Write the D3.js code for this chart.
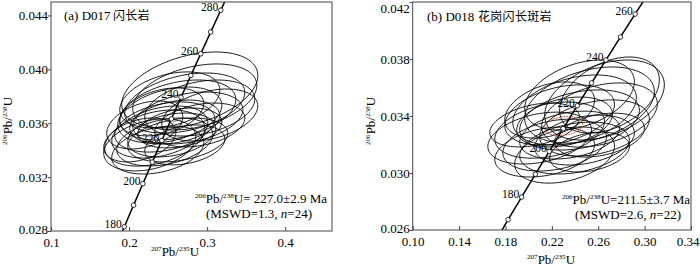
<!DOCTYPE html>
<html><head><meta charset="utf-8">
<script src="https://cdn.jsdelivr.net/npm/d3@7"></script>
<style>body{margin:0;background:#fff}svg{display:block}</style>
</head><body>
<svg id="c" width="700" height="267"></svg>
<script>
// ---------- Panel (a) D017 data: ellipse centres (207Pb/235U, 206Pb/238U), half-widths, correlation ----------
const aX   = [0.2778,0.2842,0.2714,0.2906,0.2624,0.2522,0.2753,0.2586,0.2458,0.2650,0.2394,0.2547,0.2329,0.2265,0.2458,0.2624,0.2368,0.2201,0.2906,0.3034,0.2522,0.2419,0.2714,0.2137];
const aY   = [0.03847,0.03795,0.03750,0.03713,0.03698,0.03661,0.03639,0.03609,0.03572,0.03565,0.03535,0.03513,0.03490,0.03439,0.03461,0.03476,0.03401,0.03587,0.03587,0.03661,0.03773,0.03684,0.03439,0.03476];
const aEx  = [0.0872,0.0795,0.0769,0.0705,0.0744,0.0667,0.0705,0.0577,0.0641,0.0538,0.0615,0.0564,0.0641,0.0590,0.0615,0.0641,0.0590,0.0487,0.0577,0.0615,0.0641,0.0538,0.0513,0.0462];
const aEy  = [0.00282,0.00245,0.00223,0.00208,0.00223,0.00208,0.00193,0.00163,0.00186,0.00148,0.00193,0.00163,0.00208,0.00193,0.00178,0.00163,0.00178,0.00178,0.00163,0.00193,0.00208,0.00178,0.00148,0.00163];
const aRho = [0.38,0.35,0.35,0.32,0.35,0.35,0.32,0.3,0.32,0.3,0.35,0.3,0.35,0.32,0.32,0.3,0.32,0.35,0.32,0.35,0.35,0.35,0.3,0.35];
const aMean = {x:0.2612, y:0.0359, ex:0.0064, ey:0.00030, rho:0.3};
const aMarkerAges = [180,190,200,210,220,230,240,250,260,270,280];
const aLabelAges  = [180,200,220,240,260,280];
const aXTicks = [0.1,0.2,0.3,0.4];
const aYTicks = [0.028,0.032,0.036,0.040,0.044];

// ---------- Panel (b) D018 data ----------
const bX   = [0.2654,0.2525,0.2396,0.2611,0.2267,0.2439,0.2310,0.2568,0.2181,0.2353,0.2095,0.2482,0.2224,0.2396,0.2138,0.2310,0.2611,0.2052,0.2697,0.2181,0.2525,0.2439];
const bY   = [0.03512,0.03477,0.03442,0.03407,0.03407,0.03372,0.03358,0.03316,0.03301,0.03266,0.03245,0.03231,0.03196,0.03175,0.03147,0.03126,0.03266,0.03337,0.03547,0.03442,0.03147,0.03547];
const bEx  = [0.0516,0.0559,0.0533,0.0499,0.0473,0.0516,0.0413,0.0473,0.0473,0.0430,0.0447,0.0430,0.0447,0.0473,0.0430,0.0430,0.0387,0.0387,0.0430,0.0387,0.0344,0.0473];
const bEy  = [0.00281,0.00267,0.00246,0.00225,0.00211,0.00211,0.00175,0.00197,0.00197,0.00168,0.00182,0.00175,0.00182,0.00182,0.00175,0.00197,0.00154,0.00154,0.00267,0.00197,0.00140,0.00246];
const bRho = [0.38,0.35,0.35,0.35,0.35,0.32,0.32,0.32,0.32,0.3,0.32,0.3,0.3,0.3,0.3,0.32,0.32,0.35,0.4,0.35,0.3,0.38];
const bMean = {x:0.2302, y:0.03330, ex:0.0163, ey:0.00067, rho:0.2};
const bMarkerAges = [170,180,190,200,210,220,230,240,250,260];
const bLabelAges  = [180,200,220,240,260];
const bXTicks = [0.10,0.14,0.18,0.22,0.26,0.30,0.34];
const bYTicks = [0.026,0.030,0.034,0.038,0.042];

// Decay constants (per Ma) for the concordia curve
const L238 = 1.55125e-4, L235 = 9.8485e-4;
const conc = t => [Math.expm1(L235*t), Math.expm1(L238*t)];

const svg = d3.select('#c');
const SERIF = '"Liberation Serif","Times New Roman",serif';
const CJK = '"Noto Sans CJK SC",sans-serif';

function iso(sel, parts, size){
  let prevSup = false;
  parts.forEach(p=>{
    if(p[1]){ sel.append('tspan').attr('font-size', size*0.55).attr('dy', -size*0.38).text(p[0]); prevSup = true; }
    else { sel.append('tspan').attr('font-size', size).attr('dy', prevSup ? size*0.38 : 0).text(p[0]); prevSup = false; }
  });
}

function panel(cfg){
  const g = svg.append('g');
  const x = d3.scaleLinear().domain(cfg.xDomain).range([cfg.left, cfg.right]);
  const y = d3.scaleLinear().domain(cfg.yDomain).range([cfg.bottom, cfg.top]);
  const cid = 'clip'+cfg.id;
  svg.append('defs').append('clipPath').attr('id',cid).append('rect')
    .attr('x',cfg.left).attr('y',cfg.top).attr('width',cfg.right-cfg.left).attr('height',cfg.bottom-cfg.top);
  const plot = g.append('g').attr('clip-path',`url(#${cid})`);

  const ell = (cx,cy,ex,ey,rho) => d3.range(0,360,3).map(d=>{
    const t=d*Math.PI/180;
    return [x(cx+ex*Math.cos(t)), y(cy+ey*(rho*Math.cos(t)+Math.sqrt(1-rho*rho)*Math.sin(t)))];
  });
  const line = d3.line().curve(d3.curveLinearClosed);
  cfg.X.forEach((v,i)=>{
    plot.append('path').attr('d', line(ell(v,cfg.Y[i],cfg.Ex[i],cfg.Ey[i],cfg.Rho[i])))
      .attr('fill','none').attr('stroke','#000').attr('stroke-width',0.9);
  });
  const m = cfg.mean;
  plot.append('path').attr('d', line(ell(m.x,m.y,m.ex,m.ey,m.rho)))
    .attr('fill','none').attr('stroke',cfg.meanColor).attr('stroke-width',cfg.meanWidth)
    .attr('stroke-dasharray',cfg.meanDash);

  // concordia
  const curve = d3.range(100,331,1).map(t=>{const c=conc(t);return [x(c[0]),y(c[1])];});
  plot.append('path').attr('d', d3.line()(curve)).attr('fill','none').attr('stroke','#000').attr('stroke-width',1.5);
  cfg.markers.forEach(t=>{
    const c=conc(t);
    plot.append('circle').attr('cx',x(c[0])).attr('cy',y(c[1])).attr('r',2.3)
      .attr('fill','#fff').attr('stroke','#000').attr('stroke-width',0.8);
  });
  cfg.labels.forEach(t=>{
    const c=conc(t);
    g.append('text').attr('x',x(c[0])-2.5).attr('y',y(c[1])+1).attr('text-anchor','end')
      .attr('font-family',SERIF).attr('font-size',11.5).text(t);
  });

  // frame
  g.append('rect').attr('x',cfg.left).attr('y',cfg.top).attr('width',cfg.right-cfg.left).attr('height',cfg.bottom-cfg.top)
    .attr('fill','none').attr('stroke','#444').attr('stroke-width',1);

  // axes
  const xa = g.append('g').attr('transform',`translate(0,${cfg.bottom})`)
    .call(d3.axisBottom(x).tickValues(cfg.xTicks).tickFormat(d3.format(cfg.xFmt)).tickSizeInner(-4).tickSizeOuter(0).tickPadding(7));
  xa.select('.domain').remove();
  xa.selectAll('line').attr('stroke','#444');
  xa.selectAll('text').attr('font-family',SERIF).attr('font-size',13).attr('fill','#000');
  xa.selectAll('.tick').each(function(d){
    if(x(d) > 680) d3.select(this).select('text').attr('text-anchor','end').attr('x', 699 - x(d));
  });
  const ya = g.append('g').attr('transform',`translate(${cfg.left},0)`)
    .call(d3.axisLeft(y).tickValues(cfg.yTicks).tickFormat(d3.format('.3f')).tickSizeInner(3).tickSizeOuter(0).tickPadding(0));
  ya.select('.domain').remove();
  ya.selectAll('line').attr('stroke','#444');
  ya.selectAll('text').attr('font-family',SERIF).attr('font-size',13).attr('fill','#000').attr('x',-3);
  ya.selectAll('.tick').each(function(d){
    const t = d3.select(this).select('text');
    if(y(d) < cfg.top+4) t.attr('y', 6);
    if(y(d) > cfg.bottom-4) t.attr('y', -1.5);
  });

  // panel label
  const pl = g.append('text').attr('x',cfg.labelX).attr('y',cfg.labelY).attr('font-size',13);
  pl.append('tspan').attr('font-family',SERIF).text(cfg.labelA);
  pl.append('tspan').attr('x',cfg.labelCx).attr('font-family',CJK).attr('font-size',12).attr('letter-spacing',0.3).text(cfg.labelB);

  // axis titles
  const xt = g.append('text').attr('x',cfg.xtX).attr('y',cfg.xtY).attr('text-anchor','middle').attr('font-family',SERIF);
  iso(xt, [['207',1],['Pb/',0],['235',1],['U',0]], 13);
  const yt = g.append('text').attr('transform',`translate(${cfg.ytX},${cfg.ytY}) rotate(-90)`).attr('text-anchor','middle').attr('font-family',SERIF);
  iso(yt, [['206',1],['Pb/',0],['238',1],['U',0]], 13);

  // annotation
  const a1 = g.append('text').attr('x',cfg.annX).attr('y',cfg.annY).attr('text-anchor','middle').attr('font-family',SERIF);
  iso(a1, [['206',1],['Pb/',0],['238',1],[cfg.ann1,0]], 13);
  const a2 = g.append('text').attr('x',cfg.annX2).attr('y',cfg.annY+14.5).attr('text-anchor','middle').attr('font-family',SERIF).attr('font-size',13);
  a2.append('tspan').text(cfg.ann2a);
  a2.append('tspan').attr('font-style','italic').text('n');
  a2.append('tspan').text(cfg.ann2b);
}

panel({id:'a', xDomain:[0.1,0.46], yDomain:[0.028,0.045], left:51, right:332, top:2, bottom:231,
  X:aX, Y:aY, Ex:aEx, Ey:aEy, Rho:aRho, mean:aMean, meanColor:'#333', meanWidth:0.7, meanDash:null,
  markers:aMarkerAges, labels:aLabelAges, xTicks:aXTicks, yTicks:aYTicks, xFmt:'.1f',
  labelX:64, labelY:20, labelA:'(a) D017', labelCx:113, labelB:'闪长岩',
  xtX:175, xtY:256, ytX:12, ytY:121,
  annX:261, annX2:259, annY:203, ann1:'U= 227.0±2.9 Ma', ann2a:'(MSWD=1.3, ', ann2b:'=24)'});

panel({id:'b', xDomain:[0.10,0.34], yDomain:[0.026,0.042], left:412.7, right:691, top:2, bottom:230,
  X:bX, Y:bY, Ex:bEx, Ey:bEy, Rho:bRho, mean:bMean, meanColor:'#c0583c', meanWidth:1.1, meanDash:'1.6,1',
  markers:bMarkerAges, labels:bLabelAges, xTicks:bXTicks, yTicks:bYTicks, xFmt:'.2f',
  labelX:427, labelY:21, labelA:'(b) D018', labelCx:478, labelB:'花岗闪长斑岩',
  xtX:551, xtY:264, ytX:375, ytY:121,
  annX:626, annX2:628, annY:204, ann1:'U=211.5±3.7 Ma', ann2a:'(MSWD=2.6, ', ann2b:'=22)'});
</script>
</body></html>
